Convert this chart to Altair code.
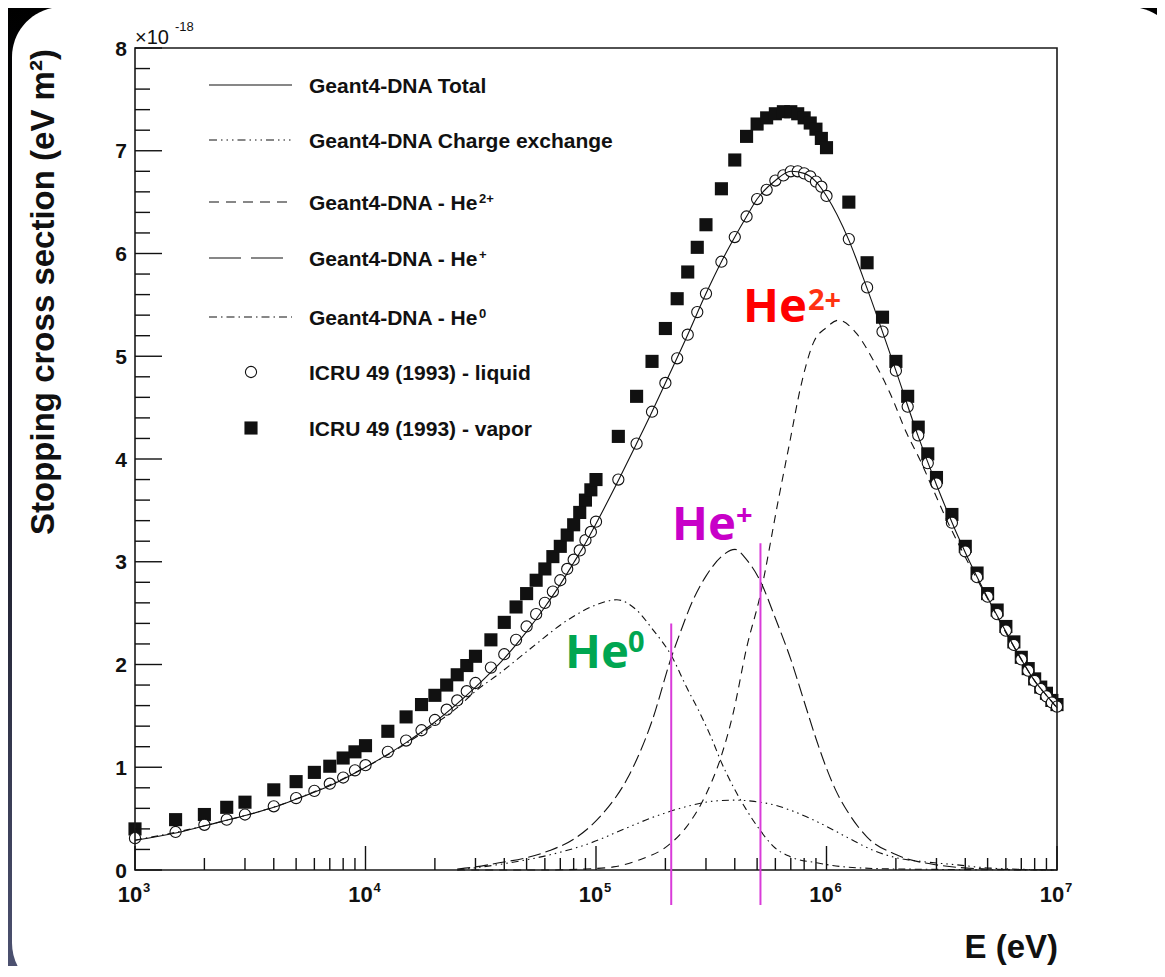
import altair as alt
import pandas as pd

# ---------------- data ----------------
# ICRU 49 (1993) tabulated energies (keV)
icru_E_keV = [1, 1.5, 2, 2.5, 3, 4, 5, 6, 7, 8, 9, 10,
              12.5, 15, 17.5, 20, 22.5, 25, 27.5, 30,
              35, 40, 45, 50, 55, 60, 65, 70, 75, 80, 85, 90, 95, 100,
              125, 150, 175, 200, 225, 250, 275, 300,
              350, 400, 450, 500, 550, 600, 650, 700, 750, 800, 850, 900, 950, 1000,
              1250, 1500, 1750, 2000, 2250, 2500, 2750, 3000,
              3500, 4000, 4500, 5000, 5500, 6000, 6500, 7000, 7500, 8000, 8500, 9000, 9500, 10000]
# stopping cross section, units of 1e-18 eV m^2
icru_liquid = [0.31, 0.37, 0.44, 0.49, 0.54, 0.62, 0.70, 0.77, 0.84, 0.90, 0.97, 1.02,
               1.15, 1.26, 1.36, 1.46, 1.56, 1.65, 1.74, 1.82,
               1.97, 2.10, 2.24, 2.37, 2.49, 2.60, 2.71, 2.82, 2.93, 3.02, 3.11, 3.21, 3.29, 3.39,
               3.80, 4.15, 4.46, 4.74, 4.98, 5.21, 5.43, 5.61,
               5.92, 6.16, 6.36, 6.53, 6.62, 6.71, 6.76, 6.80, 6.80, 6.78, 6.75, 6.70, 6.65, 6.56,
               6.14, 5.67, 5.24, 4.86, 4.51, 4.23, 3.96, 3.76,
               3.38, 3.10, 2.85, 2.66, 2.49, 2.33, 2.19, 2.05, 1.94, 1.84, 1.76, 1.69, 1.63, 1.59]
icru_vapor = [0.40, 0.49, 0.54, 0.61, 0.66, 0.78, 0.86, 0.95, 1.01, 1.09, 1.15, 1.21,
              1.35, 1.49, 1.61, 1.70, 1.80, 1.90, 1.99, 2.08,
              2.24, 2.41, 2.56, 2.69, 2.82, 2.93, 3.05, 3.15, 3.26, 3.36, 3.48, 3.60, 3.70, 3.80,
              4.22, 4.61, 4.95, 5.27, 5.56, 5.82, 6.06, 6.28,
              6.63, 6.91, 7.14, 7.26, 7.32, 7.36, 7.38, 7.38, 7.36, 7.32, 7.27, 7.21, 7.12, 7.03,
              6.50, 5.91, 5.38, 4.95, 4.61, 4.31, 4.05, 3.82,
              3.46, 3.15, 2.89, 2.69, 2.53, 2.37, 2.22, 2.07, 1.96, 1.86, 1.78, 1.72, 1.65, 1.61]

# Geant4-DNA Total
total_E_keV = [1, 1.5, 2, 3, 4, 5, 7, 10, 15, 20, 30, 40, 50, 60, 70, 80, 90, 100, 125, 150, 175,
               200, 250, 300, 350, 400, 450, 500, 600, 700, 800, 900, 1000, 1250, 1500, 2000,
               2500, 3000, 4000, 5000, 6000, 7000, 8000, 9000, 10000]
total_val = [0.29, 0.36, 0.43, 0.53, 0.61, 0.69, 0.82, 1.00, 1.24, 1.44, 1.78, 2.06, 2.32, 2.56,
             2.78, 2.99, 3.18, 3.37, 3.79, 4.15, 4.46, 4.74, 5.21, 5.61, 5.92, 6.16, 6.36, 6.53,
             6.71, 6.80, 6.78, 6.70, 6.56, 6.13, 5.66, 4.86, 4.22, 3.75, 3.09, 2.65, 2.32, 2.05,
             1.84, 1.70, 1.58]

# Geant4-DNA Charge exchange
cx_E_keV = [25, 37, 61, 94, 136, 180, 240, 322, 400, 474, 600, 720, 930, 1225, 1600, 2000,
            2660, 3700, 5000, 10000]
cx_val = [0.0, 0.05, 0.14, 0.26, 0.41, 0.52, 0.61, 0.67, 0.68, 0.67, 0.63, 0.57, 0.46, 0.32,
          0.19, 0.12, 0.08, 0.05, 0.02, 0.0]

# Geant4-DNA - He2+
he2p_E_keV = [25, 40, 60, 90, 119, 155, 203, 247, 302, 345, 394, 451, 514, 618, 695, 767, 877,
              1000, 1125, 1352, 1597, 1887, 2229, 2546, 2906, 3320, 4055, 5000, 6000, 7000,
              8000, 9000, 10000]
he2p_val = [0.0, 0.0, 0.0, 0.01, 0.03, 0.10, 0.23, 0.42, 0.75, 1.07, 1.53, 2.17, 2.66, 3.60,
            4.18, 4.67, 5.13, 5.28, 5.35, 5.22, 4.96, 4.64, 4.25, 3.99, 3.70, 3.41, 3.02, 2.64,
            2.31, 2.05, 1.84, 1.70, 1.58]

# Geant4-DNA - He+
hep_E_keV = [25, 30, 38, 50, 63, 80, 94, 110, 136, 175, 213, 231, 264, 300, 350, 401, 450, 514,
             600, 700, 800, 900, 1000, 1100, 1250, 1500, 2000, 3000, 5000, 10000]
hep_val = [0.01, 0.03, 0.07, 0.12, 0.19, 0.30, 0.42, 0.58, 0.88, 1.45, 2.08, 2.30, 2.63, 2.86,
           3.05, 3.12, 3.02, 2.82, 2.45, 2.05, 1.64, 1.28, 0.99, 0.77, 0.55, 0.32, 0.15, 0.05,
           0.01, 0.0]

# Geant4-DNA - He0
he0_E_keV = [1, 2, 5, 10, 15, 20, 25, 30, 38, 53, 75, 100, 123, 150, 175, 213, 247, 282, 323,
             345, 394, 451, 514, 588, 695, 906, 1200, 2000, 10000]
he0_val = [0.29, 0.43, 0.69, 1.00, 1.23, 1.42, 1.58, 1.74, 1.91, 2.17, 2.43, 2.58, 2.63, 2.53,
           2.35, 2.08, 1.78, 1.53, 1.24, 1.08, 0.81, 0.58, 0.39, 0.23, 0.13, 0.07, 0.03, 0.01, 0.0]

# magenta marker lines (energy in eV, top / bottom in 1e-18 eV m^2)
marker_E = [2.12e5, 5.17e5]
marker_top = [2.40, 3.18]
marker_bottom = [-0.34, -0.34]

# axes
x_major = [1e3, 1e4, 1e5, 1e6, 1e7]
x_major_base = ["10", "10", "10", "10", "10"]
x_major_exp = ["3", "4", "5", "6", "7"]
y_major = [0, 1, 2, 3, 4, 5, 6, 7, 8]
y_major_text = ["0", "1", "2", "3", "4", "5", "6", "7", "8"]

# ---------------- layout ----------------
W, H = 922, 822
PAD_L, PAD_T, PAD_R, PAD_B = 127, 40, 100, 96
SANS = "Liberation Sans, Arial, Helvetica, sans-serif"
ANNO = "Noto Sans, DejaVu Sans, sans-serif"
INK = "#111111"

xs = alt.Scale(type="log", domain=[1e3, 1e7], nice=False)
ys = alt.Scale(domain=[0, 8], nice=False, zero=False)
dummy = pd.DataFrame({"d": [0]})


def XE(field="E"):
    return alt.X(f"{field}:Q", scale=xs, axis=None)


def YV(field="v"):
    return alt.Y(f"{field}:Q", scale=ys, axis=None)


def text_at(s, x, y, size, color=INK, font=SANS, align="left", angle=None, weight="bold"):
    kw = dict(text=s, fontSize=size, fontWeight=weight, font=font, color=color,
              align=align, baseline="alphabetic")
    if angle is not None:
        kw["angle"] = angle
    return alt.Chart(dummy).mark_text(**kw).encode(x=alt.value(x), y=alt.value(y))


def series(E_keV, vals):
    return pd.DataFrame({"E": [e * 1e3 for e in E_keV], "v": vals})


# background and rounded white panel
bg = alt.Chart(dummy).mark_rect(
    fill=alt.LinearGradient(
        gradient="linear", x1=0, x2=0, y1=0, y2=1,
        stops=[alt.GradientStop(color="#000000", offset=0),
               alt.GradientStop(color="#14141f", offset=0.45),
               alt.GradientStop(color="#4c5170", offset=1)])
).encode(x=alt.value(-PAD_L), x2=alt.value(W + PAD_R), y=alt.value(-PAD_T), y2=alt.value(H + PAD_B))

panel = alt.Chart(dummy).mark_rect(fill="white", cornerRadius=50).encode(
    x=alt.value(-123), x2=alt.value(1045), y=alt.value(-41), y2=alt.value(945))

# ICRU points
icru = pd.DataFrame({"E": [e * 1e3 for e in icru_E_keV], "liq": icru_liquid, "vap": icru_vapor})
vapor_pts = alt.Chart(icru).mark_point(shape="square", filled=True, color=INK, size=172, opacity=1).encode(
    x=XE(), y=YV("vap"))
liquid_pts = alt.Chart(icru).mark_point(shape="circle", filled=False, fill="white", fillOpacity=1,
                                        stroke=INK, strokeWidth=1.1, size=125, opacity=1).encode(
    x=XE(), y=YV("liq"))


def curve(df, dash=None):
    kw = dict(color=INK, strokeWidth=1.1, interpolate="monotone")
    if dash is not None:
        kw["strokeDash"] = dash
    return alt.Chart(df).mark_line(**kw).encode(x=XE(), y=YV("v"), order="E:Q")


c_total = curve(series(total_E_keV, total_val))
c_cx = curve(series(cx_E_keV, cx_val), [7, 4, 1.5, 4, 1.5, 4, 1.5, 4])
c_he2p = curve(series(he2p_E_keV, he2p_val), [8, 6])
c_hep = curve(series(hep_E_keV, hep_val), [13, 5])
c_he0 = curve(series(he0_E_keV, he0_val), [7, 4, 1.5, 4])

# frame
frame = alt.Chart(dummy).mark_rect(fillOpacity=0, stroke="#1a1a1a", strokeWidth=1.6).encode(
    x=alt.value(0), x2=alt.value(W), y=alt.value(0), y2=alt.value(H))

# ticks (inward, ROOT style)
x_minor = [k * 10 ** d for d in range(3, 7) for k in range(2, 10)]
xmaj_ticks = alt.Chart(pd.DataFrame({"E": x_major})).mark_rule(color=INK, strokeWidth=1.4).encode(
    x=XE(), y=alt.value(H), y2=alt.value(H - 24))
xmin_ticks = alt.Chart(pd.DataFrame({"E": x_minor})).mark_rule(color=INK, strokeWidth=1.4).encode(
    x=XE(), y=alt.value(H), y2=alt.value(H - 12))
y_minor = [i / 5 for i in range(41) if i % 5 != 0]
ymaj_ticks = alt.Chart(pd.DataFrame({"v": y_major})).mark_rule(color=INK, strokeWidth=1.4).encode(
    y=YV(), x=alt.value(0), x2=alt.value(27))
ymin_ticks = alt.Chart(pd.DataFrame({"v": y_minor})).mark_rule(color=INK, strokeWidth=1.4).encode(
    y=YV(), x=alt.value(0), x2=alt.value(15))

# tick labels
ylab = alt.Chart(pd.DataFrame({"v": y_major, "t": y_major_text})).mark_text(
    font=SANS, fontWeight="bold", fontSize=21, color=INK, align="right", baseline="alphabetic", dy=7.5
).encode(y=YV(), x=alt.value(-8), text="t:N")
xlab_df = pd.DataFrame({"E": x_major, "base": x_major_base, "exp": x_major_exp})
xlab_base = alt.Chart(xlab_df).mark_text(font=SANS, fontWeight="bold", fontSize=22, color=INK,
                                         align="center", baseline="alphabetic", dx=-5).encode(
    x=XE(), y=alt.value(H + 32), text="base:N")
xlab_exp = alt.Chart(xlab_df).mark_text(font=SANS, fontWeight="bold", fontSize=13, color=INK,
                                        align="left", baseline="alphabetic", dx=8).encode(
    x=XE(), y=alt.value(H + 22), text="exp:N")

# titles
y_title = text_at("Stopping cross section (eV m²)", -81, 244, 33, align="center", angle=270)
x_title = text_at("E (eV)", W + 1, H + 88, 33, align="right")
mult = text_at("×10", 0, -4, 20, weight="normal")
mult_exp = text_at("-18", 40, -17, 13, weight="normal")

# legend
rows = [37, 92, 154, 210, 269, 324, 380]
TX = 174
leg = []
leg_dash = [None, [8, 4, 1.5, 4, 1.5, 4, 1.5, 4], [10, 7], [32, 10], [8, 4, 1.5, 4]]
for ry, dash in zip(rows[:5], leg_dash):
    kw = dict(color=INK, strokeWidth=1.2)
    if dash is not None:
        kw["strokeDash"] = dash
    leg.append(alt.Chart(dummy).mark_rule(**kw).encode(
        x=alt.value(74), x2=alt.value(157), y=alt.value(ry)))
leg.append(alt.Chart(dummy).mark_point(shape="circle", filled=False, stroke=INK, strokeWidth=1.1,
                                       size=125, opacity=1).encode(x=alt.value(116), y=alt.value(rows[5])))
leg.append(alt.Chart(dummy).mark_point(shape="square", filled=True, color=INK, size=172, opacity=1).encode(
    x=alt.value(116), y=alt.value(rows[6])))
leg_text = ["Geant4-DNA Total", "Geant4-DNA Charge exchange", "Geant4-DNA - He",
            "Geant4-DNA - He", "Geant4-DNA - He", "ICRU 49 (1993) - liquid", "ICRU 49 (1993) - vapor"]
for ry, s in zip(rows, leg_text):
    leg.append(text_at(s, TX, ry + 7.5, 21))
SUP_X = TX + 170
for ry, s in zip(rows[2:5], ["2+", "+", "0"]):
    leg.append(text_at(s, SUP_X, ry + 1, 13))

# coloured annotations
anno = [
    text_at("He", 608, 274, 47, color="#FF0000", font=ANNO),
    text_at("2+", 673, 262, 29, color="#FF3311", font=ANNO),
    text_at("He", 537, 492, 47, color="#C800C8", font=ANNO),
    text_at("+", 601, 477, 29, color="#C800C8", font=ANNO),
    text_at("He", 430, 620, 47, color="#00A651", font=ANNO),
    text_at("0", 493, 604, 29, color="#00A651", font=ANNO),
]

markers = alt.Chart(pd.DataFrame({"E": marker_E, "top": marker_top, "bot": marker_bottom})).mark_rule(
    color="#D93BD9", strokeWidth=2).encode(x=XE(), y=YV("top"), y2="bot:Q")

chart = alt.layer(
    bg, panel, vapor_pts, liquid_pts, c_total, c_cx, c_he2p, c_hep, c_he0,
    frame, xmaj_ticks, xmin_ticks, ymaj_ticks, ymin_ticks, ylab, xlab_base, xlab_exp,
    y_title, x_title, mult, mult_exp, *leg, *anno, markers
).properties(
    width=W, height=H,
    autosize=alt.AutoSizeParams(type="none"),
    padding={"left": PAD_L, "top": PAD_T, "right": PAD_R, "bottom": PAD_B},
).configure_view(strokeWidth=0)

chart.save("out.html", embed_options={"renderer": "svg", "actions": False})
